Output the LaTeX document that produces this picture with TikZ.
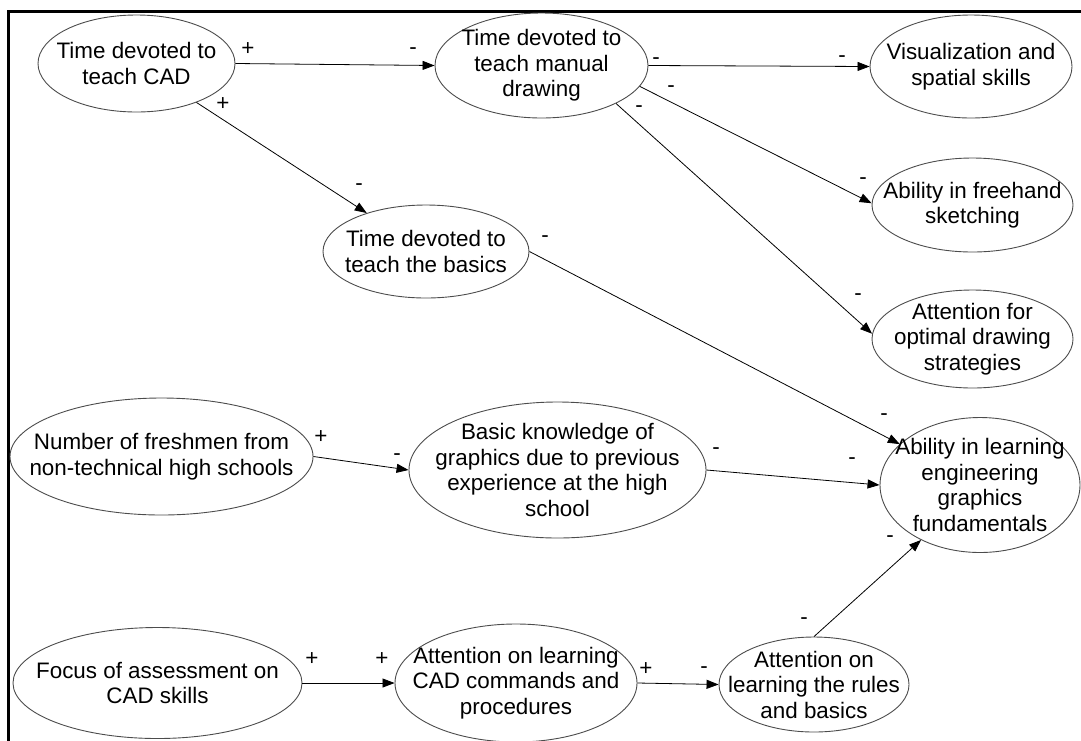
\documentclass[tikz,border=0pt]{standalone}
\usepackage{fontspec}
\setmainfont{Liberation Sans}
\usetikzlibrary{shapes.geometric, arrows.meta}
\begin{document}
\begin{tikzpicture}[x=1pt, y=-1pt,
  ell/.style={ellipse, draw=black!70, line width=0.9pt, inner sep=0pt},
  txt/.style={font=\fontsize{22.4}{25.5}\selectfont, align=center, inner sep=0pt},
  lnk/.style={draw=black, line width=0.8pt, -{Triangle[length=12pt,width=9pt]}},
  sgn/.style={font=\fontsize{22.4}{25.5}\selectfont, inner sep=0pt, text height=0.7em, text depth=0pt}
]
\useasboundingbox (0,0) rectangle (1081,740);
\draw[line width=3pt] (8,742) -- (8,11.5) -- (1083,11.5);

\node[ell, minimum width=197pt, minimum height=97pt, label={[txt]center:{Time devoted to\\teach CAD}}] (cad) at (136.5,63.5) {};
\node[ell, minimum width=213pt, minimum height=105pt, label={[txt]center:{Time devoted to\\teach manual\\drawing}}] (man) at (541.5,65.5) {};
\node[ell, minimum width=202pt, minimum height=103pt, label={[txt]center:{Visualization and\\spatial skills}}] (vis) at (971,66.5) {};
\node[ell, minimum width=206pt, minimum height=93pt, label={[txt]center:{Time devoted to\\teach the basics}}] (bas) at (426,251.5) {};
\node[ell, minimum width=201pt, minimum height=94pt, label={[txt]center:{Ability in freehand\\sketching}}] (fh) at (972.5,205) {};
\node[ell, minimum width=201pt, minimum height=98pt, label={[txt]center:{Attention for\\optimal drawing\\strategies}}] (opt) at (972.5,339) {};
\node[ell, minimum width=303pt, minimum height=117pt, label={[txt]center:{Number of freshmen from\\non-technical high schools}}] (fr) at (161.5,456.5) {};
\node[ell, minimum width=297pt, minimum height=136pt, label={[txt]center:{Basic knowledge of\\graphics due to previous\\experience at the high\\school}}] (bk) at (557.5,470) {};
\node[ell, minimum width=200pt, minimum height=135pt, label={[txt]center:{Ability in learning\\engineering\\graphics\\fundamentals}}] (abl) at (980,485) {};
\node[ell, minimum width=289pt, minimum height=111pt, label={[txt]center:{Focus of assessment on\\CAD skills}}] (foc) at (157.5,683) {};
\node[ell, minimum width=242pt, minimum height=118pt, label={[txt]center:{Attention on learning\\CAD commands and\\procedures}}] (acad) at (516,683) {};
\node[ell, minimum width=190pt, minimum height=95pt, label={[txt]center:{Attention on\\learning the rules\\and basics}}] (rul) at (814,684.5) {};

\draw[lnk] (cad.east) -- (man.west);
\draw[lnk] (cad) -- (bas);
\draw[lnk] (man.east) -- (vis.west);
\draw[lnk] (man.-12) -- (fh.179);
\draw[lnk] (man.-27) -- (opt.177);
\draw[lnk] (bas.east) -- (abl.153);
\draw[lnk] (fr.east) -- (bk.west);
\draw[lnk] (bk.east) -- (abl.west);
\draw[lnk] (foc.east) -- (acad.west);
\draw[lnk] (acad.east) -- (rul.west);
\draw[lnk] (rul.north) -- (abl.223);

\node[sgn] (s1) at (248,52) {+};
\node[sgn] (s2) at (413,50.5) {-};
\node[sgn] (s3) at (223,107) {+};
\node[sgn] (s4) at (359,186.5) {-};
\node[sgn] (s5) at (656,60.5) {-};
\node[sgn] (s6) at (842,58.5) {-};
\node[sgn] (s7) at (671,88.5) {-};
\node[sgn] (s8) at (863,180.5) {-};
\node[sgn] (s9) at (639,108.5) {-};
\node[sgn] (s10) at (858,296.5) {-};
\node[sgn] (s11) at (545,238.5) {-};
\node[sgn] (s12) at (884,416.5) {-};
\node[sgn] (s13) at (321,440) {+};
\node[sgn] (s14) at (397,457) {-};
\node[sgn] (s15) at (716,450.5) {-};
\node[sgn] (s16) at (852,460.5) {-};
\node[sgn] (s17) at (312,662) {+};
\node[sgn] (s18) at (382,662) {+};
\node[sgn] (s19) at (646,672) {+};
\node[sgn] (s20) at (704,669.5) {-};
\node[sgn] (s21) at (804,620.5) {-};
\node[sgn] (s22) at (890,538.5) {-};
\end{tikzpicture}
\end{document}
